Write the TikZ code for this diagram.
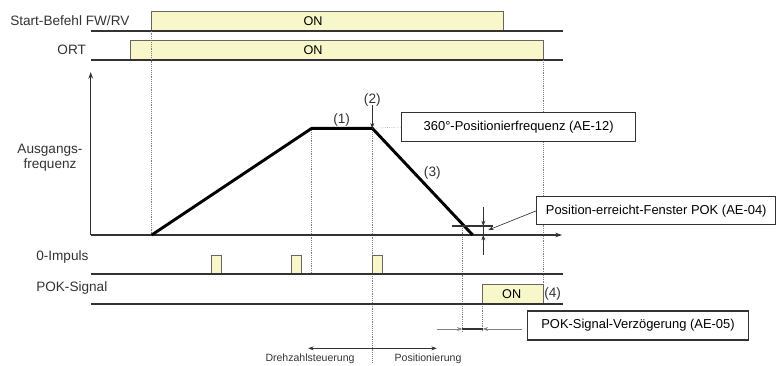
\documentclass[tikz,border=0pt]{standalone}
\usepackage{fontspec}
\setmainfont{Liberation Sans}
\usetikzlibrary{arrows.meta,positioning,calc}
\definecolor{onfill}{HTML}{F7F7C9}
\definecolor{sigline}{HTML}{333333}

\begin{document}
\begin{tikzpicture}[
    x=0.75pt, y=-0.75pt,
    siglabel/.style={font=\fontsize{10.2}{11.25}\selectfont, text=sigline, inner sep=0pt},
    smalllabel/.style={font=\fontsize{7.9}{9}\selectfont, text=sigline, inner sep=0pt},
    onbox/.style={draw=gray!80!black, fill=onfill, line width=0.5pt},
    ontext/.style={font=\fontsize{9.5}{11}\selectfont, inner sep=0pt},
    sigbase/.style={draw=sigline, line width=1.5pt},
    parambox/.style={rectangle, draw=sigline, line width=0.8pt, fill=white, text centered, font=\fontsize{9.7}{11}\selectfont, inner sep=0pt},
    guide/.style={densely dotted, gray, line width=0.4pt},
    ramp/.style={line width=2.2pt, black},
    axis/.style={-{Stealth[length=5pt,width=3.5pt]}, line width=1pt, sigline},
    thinarrow/.style={-{Stealth[length=4pt,width=3pt]}, line width=0.5pt, sigline},
]
\useasboundingbox (0,0) rectangle (781,365);

% --- Signal labels ---
\node[siglabel, anchor=west] (startlbl) at (10,20.7) {Start-Befehl FW/RV};
\node[siglabel] (ortlbl) at (71.7,50) {ORT};
\node[siglabel, align=center] (freqlbl) at (50,157.5) {Ausgangs-\\frequenz};
\node[siglabel, anchor=west] (impulslbl) at (36,256.7) {0-Impuls};
\node[siglabel, anchor=west] (poklbl) at (36,288.3) {POK-Signal};

% --- Start command and ORT ---
\draw[onbox] (151.7,30.7) rectangle (503.3,11);
\draw[onbox] (130.3,60.3) rectangle (543.3,40.7);
\node[ontext] (starton) at (313,20.8) {ON};
\node[ontext] (orton) at (313,50.5) {ON};
\draw[sigbase] (90.7,30.7) -- (563.3,30.7);
\draw[sigbase] (90.7,60.3) -- (563.3,60.3);

% --- Guide lines ---
\draw[guide] (151.7,30.7) -- (151.7,235);
\draw[guide] (543.3,60.3) -- (543.3,304);
\draw[guide] (311.7,128.3) -- (311.7,274.3);
\draw[guide] (372.3,128.3) -- (372.3,362);
\draw[guide] (462.3,226) -- (462.3,332);
\draw[guide] (482.7,304) -- (482.7,332);

% --- Frequency axes ---
\coordinate (origin) at (90.7,235);
\draw[axis] (origin) -- (90.7,72);
\draw[axis] (origin) -- (562,235);

% --- Output frequency profile ---
\coordinate (rampstart) at (151.7,235);
\coordinate (rampend) at (311.7,128.3);
\coordinate (decelstart) at (372.3,128.3);
\coordinate (decelend) at (472.7,235);
\draw[ramp] (rampstart) -- (rampend) -- (decelstart) -- (decelend);
\node[siglabel] (p1) at (341.7,119.5) {(1)};
\node[siglabel] (p2) at (372.3,99.5) {(2)};
\node[siglabel] (p3) at (432.3,173) {(3)};
\draw[thinarrow] (p2.south) ++(0,-1) -- (decelstart);

% --- Positioning frequency ---
\node[parambox, minimum width=175.5pt, minimum height=22pt] (ae12) at (518.7,127) {360°-Positionierfrequenz (AE-12)};
\draw[guide] (decelstart) -- (ae12.west);

% --- Position window ---
\coordinate (winleft) at (451.7,226);
\coordinate (winright) at (493.3,226);
\coordinate (wintop) at (483.3,226);
\coordinate (winbottom) at (483.3,235);
\draw[line width=1.8pt, sigline] (winleft) -- (winright);
\draw[line width=1.2pt, sigline] (wintop) -- (winbottom);
\draw[thinarrow] (483.3,206.7) -- (wintop);
\draw[thinarrow] (483.3,255) -- (winbottom);
\node[parambox, minimum width=179pt, minimum height=21.2pt] (ae04) at (656.2,210.8) {Position-erreicht-Fenster POK (AE-04)};
\draw[thinarrow] (ae04.west) -- (488.3,230);

% --- Zero pulses ---
\foreach \px in {211, 291.7, 372.3}
  \draw[onbox] (\px,274.3) rectangle (\px+10,255);
\draw[sigbase] (90.7,274.3) -- (563.3,274.3);

% --- POK signal ---
\draw[onbox] (482.7,304) rectangle (543.3,284.3);
\node[ontext] (pokon) at (511.7,294) {ON};
\node[siglabel] (p4) at (552.7,294) {(4)};
\draw[sigbase] (90.7,304) -- (563.3,304);

% --- POK delay ---
\node[parambox, minimum width=165.5pt, minimum height=21.75pt] (ae05) at (638,325.5) {POK-Signal-Verzögerung (AE-05)};
\coordinate (delayleft) at (462.3,329);
\coordinate (delayright) at (482.7,329);
\draw[line width=1.5pt, sigline] (delayleft) -- (delayright);
\draw[thinarrow, gray] (437.3,329) -- (delayleft);
\draw[thinarrow, gray] (521.7,329) -- (delayright);

% --- Control phases ---
\coordinate (phasesplit) at (372.3,348.3);
\draw[thinarrow] (phasesplit) -- (308.3,348.3);
\draw[thinarrow] (phasesplit) -- (436.7,348.3);
\node[smalllabel] (drehlbl) at (310,358.5) {Drehzahlsteuerung};
\node[smalllabel] (poslbl) at (428,358.5) {Positionierung};

\end{tikzpicture}
\end{document}
